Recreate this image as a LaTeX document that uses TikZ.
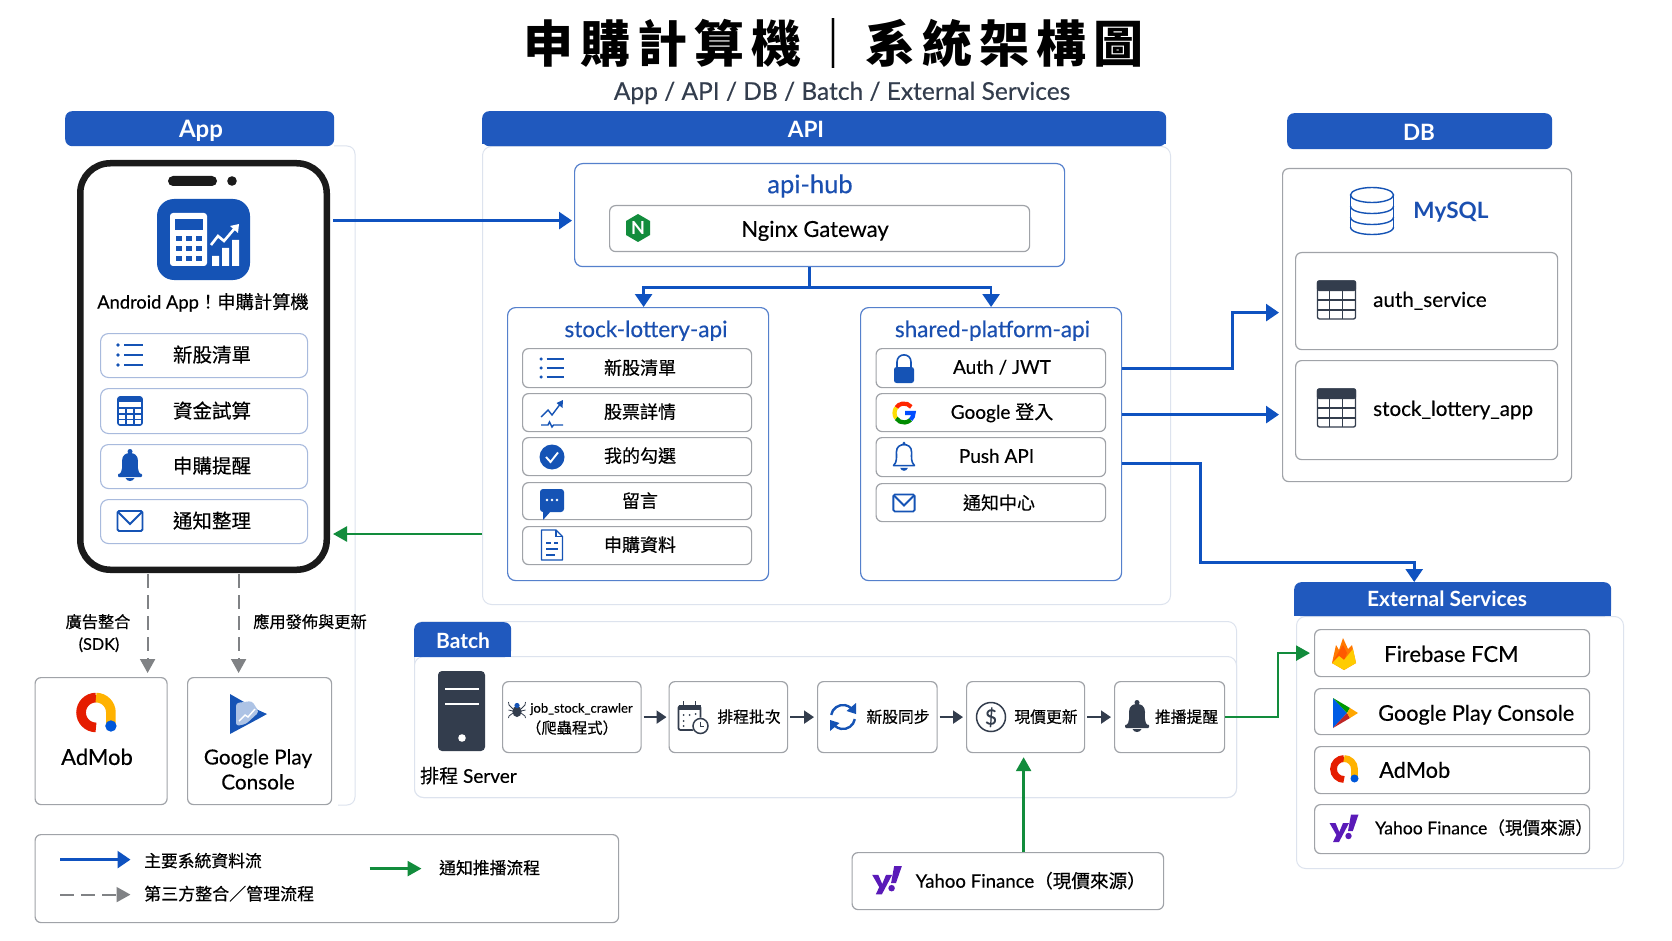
\documentclass[tikz,border=0pt]{standalone}
\usepackage{fontspec}
\usetikzlibrary{arrows.meta,calc}
\setmainfont{Lato}[FakeBold=0.35]
\newfontfamily\hdf{Lato}
\newfontfamily\cjf{Noto Sans CJK TC}[FakeBold=0.35]
\newfontfamily\cjtitle{Noto Sans CJK TC}
\newcommand\cj[1]{{\cjf #1}}
\definecolor{hblue}{HTML}{2059BE}
\definecolor{ablue}{HTML}{0F52C0}
\definecolor{tblue}{HTML}{1A4FB0}
\definecolor{iblue}{HTML}{1553B5}
\definecolor{pblue}{HTML}{5580CC}
\definecolor{rowb}{HTML}{A8BADD}
\definecolor{gborder}{HTML}{A0A3A8}
\definecolor{lpanel}{HTML}{DDE3EE}
\definecolor{agreen}{HTML}{128C3C}
\definecolor{dgray}{HTML}{808285}
\definecolor{dark}{HTML}{333D4D}
\definecolor{ink}{HTML}{1A1A1A}
\definecolor{ypurple}{HTML}{5A1AB8}
\tikzset{
  box/.style={draw=gborder,line width=1.2pt,rounded corners=6pt,fill=white},
  rowbox/.style={draw=rowb,line width=1.1pt,rounded corners=8pt,fill=white},
  subpanel/.style={draw=pblue,line width=1.2pt,rounded corners=8pt,fill=white},
  lightpanel/.style={draw=lpanel,line width=1pt,rounded corners=9pt,fill=white},
  header/.style={fill=hblue,rounded corners=7pt},
  phonebody/.style={draw=ink,line width=6.5pt,rounded corners=30pt,fill=white},
  flow/.style={draw=ablue,line width=2.7pt,-{Triangle[length=13pt,width=17pt]}},
  gflow/.style={draw=agreen,line width=2.5pt,-{Triangle[length=14pt,width=15pt]}},
  dflow/.style={draw=dgray,line width=2pt,dash pattern=on 14pt off 7pt,-{Triangle[length=14pt,width=15pt]}},
  bflow/.style={draw=dark,line width=2pt,-{Triangle[length=10pt,width=13pt]}},
}
\newcommand\bx[6]{\node[#1,anchor=north west,minimum width={(#5-#3)*1pt},minimum height={(#6-#4)*1pt},inner sep=0pt] (#2) at (#3,#4) {};}
\newcommand\tx[6][]{\node[inner sep=0pt,#1,anchor=base] (#2) at (#3,{#4+0.36*#5}) {\fontsize{#5}{#5}\selectfont #6};}
\newcommand\txl[6][]{\node[inner sep=0pt,#1,anchor=base west] (#2) at (#3,{#4+0.36*#5}) {\fontsize{#5}{#5}\selectfont #6};}
% icons: x, y, scale
\newcommand\iList[3]{\begin{scope}[shift={(#1,#2)},scale=#3]
 \foreach \yy in {-10,0,10}{\fill[iblue] (-12,\yy) circle (1.9); \draw[iblue,line width=1.7pt] (-6,\yy)--(13,\yy);}
 \end{scope}}
\newcommand\iCalc[3]{\begin{scope}[shift={(#1,#2)},scale=#3]
 \draw[iblue,line width=1.6pt,rounded corners=2pt] (-12,-14) rectangle (12,14);
 \fill[iblue] (-12,-14) rectangle (12,-9);
 \draw[iblue,line width=1.2pt] (-12,-3)--(12,-3) (-12,3)--(12,3) (-12,8.5)--(12,8.5) (-4,-3)--(-4,14) (4,-3)--(4,14);
 \end{scope}}
\newcommand\bellpath{(-11,9) .. controls (-7,5) and (-8,0) .. (-8,-5) .. controls (-8,-11) and (-4,-13) .. (0,-13) .. controls (4,-13) and (8,-11) .. (8,-5) .. controls (8,0) and (7,5) .. (11,9) -- cycle}
\newcommand\iBell[4]{\begin{scope}[shift={(#1,#2)},scale=#3]
 \fill[#4] \bellpath; \fill[#4] (0,-14.5) circle (2.5);
 \fill[#4,rounded corners=1pt] (-12,7.5) rectangle (12,11);
 \fill[#4] (-4.5,12) -- (4.5,12) .. controls (3,16) and (-3,16) .. (-4.5,12);
 \end{scope}}
\newcommand\iBellO[3]{\begin{scope}[shift={(#1,#2)},scale=#3]
 \draw[iblue,line width=1.6pt,line join=round] \bellpath; \fill[iblue] (0,-14.5) circle (1.8);
 \fill[iblue] (-4,11.5) -- (4,11.5) .. controls (3,15.5) and (-3,15.5) .. (-4,11.5);
 \end{scope}}
\newcommand\iMail[3]{\begin{scope}[shift={(#1,#2)},scale=#3]
 \draw[iblue,line width=1.9pt,rounded corners=1.5pt] (-12.5,-10) rectangle (12.5,10);
 \draw[iblue,line width=1.9pt] (-12,-9)--(0,3)--(12,-9);
 \end{scope}}
\newcommand\iTrend[3]{\begin{scope}[shift={(#1,#2)},scale=#3]
 \draw[iblue,line width=1.4pt] (-11,3)--(-4,-4)--(0,1)--(9,-11);
 \fill[iblue] (11,-14)--(10.5,-6)--(4.5,-11)--cycle;
 \draw[iblue,line width=1.4pt] (-11,11)--(-4,11)--(-2.5,8)--(0,13)--(1.5,11)--(11,11);
 \end{scope}}
\newcommand\iCheck[3]{\begin{scope}[shift={(#1,#2)},scale=#3]
 \fill[iblue] (0,0) circle (12.5);
 \draw[white,line width=1.9pt] (-6,0)--(-1.5,5)--(6,-4.5);
 \end{scope}}
\newcommand\iChat[3]{\begin{scope}[shift={(#1,#2)},scale=#3]
 \fill[iblue,rounded corners=3pt] (-12,-12) rectangle (12,11);
 \fill[iblue] (-9,9)--(-9,19)--(-1,10)--cycle;
 \foreach \xx in {-5,0,5}{\fill[white] (\xx,-1) circle (1.3);}
 \end{scope}}
\newcommand\iDoc[3]{\begin{scope}[shift={(#1,#2)},scale=#3]
 \draw[iblue,line width=1.4pt,line join=round] (-10.5,-15)--(4,-15)--(10.5,-8.5)--(10.5,15)--(-10.5,15)--cycle;
 \draw[iblue,line width=1.2pt] (4,-15)--(4,-8.5)--(10.5,-8.5);
 \draw[iblue,line width=1.2pt] (-6,-2)--(-1,-2) (2,-2)--(6,-2) (-6,4)--(6,4) (-6,10)--(3,10);
 \end{scope}}
\newcommand\iLock[3]{\begin{scope}[shift={(#1,#2)},scale=#3]
 \fill[iblue,rounded corners=2.5pt] (-10,-2) rectangle (10,14);
 \draw[iblue,line width=1.6pt] (-7,0)--(-7,-7) .. controls (-7,-16.5) and (7,-16.5) .. (7,-7) -- (7,0);
 \end{scope}}
\newcommand\iGoogle[3]{\begin{scope}[shift={(#1,#2)},scale=#3]
 \begin{scope}[line width=4.2pt]
 \draw[red!70!orange] (-40:9.5) arc (-40:-145:9.5);
 \draw[yellow!80!orange] (-145:9.5) arc (-145:-215:9.5);
 \draw[green!55!black] (145:9.5) arc (145:45:9.5);
 \draw[blue!70!cyan] (45:9.5) arc (45:0:9.5) -- (1,0);
 \end{scope}
 \end{scope}}
\newcommand\iTable[3]{\begin{scope}[shift={(#1,#2)},scale=#3]
 \draw[dark,line width=1.3pt,rounded corners=2pt] (-19,-19) rectangle (19,19);
 \fill[dark,rounded corners=2pt] (-19.6,-19.6) rectangle (19.6,-9);
 \draw[dark,line width=1.1pt] (-7,-9)--(-7,19) (6,-9)--(6,19) (-19,0)--(19,0) (-19,10)--(19,10);
 \end{scope}}
\newcommand\iAdMob[3]{\begin{scope}[shift={(#1,#2)},scale=#3]
 \draw[red!75!orange!90!black,line width={6.8pt*#3}] (0,-10.5) arc (-90:-270:10.5);
 \draw[orange!60!yellow,line width={6.8pt*#3}] (0,-10.5) arc (-90:0:10.5) -- (10.5,8);
 \fill[blue!60!cyan!85!black] (10.5,9.5) circle (4);
 \end{scope}}
\newcommand\iYahoo[3]{\begin{scope}[shift={(#1,#2)},scale=#3]
 \fill[ypurple] (-14.5,-5)--(-8.5,-5)--(-4.7,4)--(-1,-5)--(5,-5)--(-5,14)--(-11,14)--(-7.6,7)--cycle;
 \fill[ypurple] (7,-13.5)--(14.5,-13.5)--(8.8,3)--(4,3)--cycle;
 \fill[ypurple] (4.5,8) circle (3.2);
 \end{scope}}
\begin{document}
\begin{tikzpicture}[x=1pt,y=-1pt]
\useasboundingbox (0,0) rectangle (1672,941);
\fill[white] (0,0) rectangle (1672,941);
% Title
\tx{title}{833}{45}{50}{{\cjtitle\bfseries\addfontfeature{LetterSpace=14}申購計算機｜系統架構圖}}
\tx[text=dark]{subtitle}{842}{91}{24.5}{App / API / DB / Batch / External Services}
% App panel
\draw[lpanel,line width=1pt,rounded corners=8pt] (334,146)--(355,146)--(355,805)--(338,805);
% Panels
\bx{lightpanel}{apip}{482}{146}{1170}{604}
\bx{lightpanel}{batchouter}{414}{621}{1236}{797}
\bx{lightpanel}{batchp}{414}{656}{1236}{797}
\bx{lightpanel}{extp}{1296}{616}{1623}{868}
\bx{box}{dbp}{1282}{168}{1571}{481}
% Headers
\bx{header}{apph}{65}{111}{334}{146}
\fill[hblue] (482,130) rectangle (1166,144.5);
\bx{header}{apih}{482}{111}{1166}{146}
\bx{header}{dbh}{1287}{113}{1552}{149}
\fill[hblue] (1294,600) rectangle (1611,616);
\bx{header}{exth}{1294}{582}{1611}{616}
\fill[hblue] (414,640) rectangle (511,657);
\bx{header}{batchh}{414}{622}{511}{657}
\tx[text=white,font=\hdf\bfseries]{appt}{201}{129}{24}{App}
\tx[text=white,font=\hdf\bfseries]{apit}{806}{129}{22.5}{API}
\tx[text=white,font=\hdf\bfseries]{dbt}{1419}{132}{22.5}{DB}
\tx[text=white,font=\hdf\bfseries]{extt}{1447}{599}{21}{External Services}
\tx[text=white,font=\hdf\bfseries]{batt}{463}{641}{21}{Batch}
% Phone
\bx{phonebody}{phone}{77}{160}{323.5}{566.5}
\fill[ink,rounded corners=5pt] (168,176) rectangle (217,186);
\fill[ink] (232,181) circle (4.8);
\fill[iblue,rounded corners=17pt] (157,199) rectangle (250,280);
\fill[white,rounded corners=3pt] (170,213) rectangle (207,266);
\fill[iblue] (175,219) rectangle (203,230);
\foreach \xx in {176,186,196}\foreach \yy in {236,246,256}{\fill[iblue] (\xx,\yy) rectangle ++(6,5.5);}
\fill[white] (212,256) rectangle (219,266) (222,248) rectangle (229,266) (232,240) rectangle (239,266);
\draw[white,line width=2.6pt] (211,245)--(218,236)--(224,241)--(235,228);
\fill[white] (239,224)--(238,233)--(230,226)--cycle;
\tx{apptitle}{203}{302}{18.3}{Android App\cj{！申購計算機}}
\bx{rowbox}{ar1}{100}{333}{307}{377}
\bx{rowbox}{ar2}{100}{388}{307}{433}
\bx{rowbox}{ar3}{100}{444}{307}{488}
\bx{rowbox}{ar4}{100}{499}{307}{543}
\iList{130}{355}{1}\iCalc{130}{411}{1}\iBell{130}{466}{1}{iblue}\iMail{130}{521}{1}
\tx{art1}{212}{355}{19.5}{\cj{新股清單}}
\tx{art2}{212}{411}{19.5}{\cj{資金試算}}
\tx{art3}{212}{466}{19.5}{\cj{申購提醒}}
\tx{art4}{212}{521}{19.5}{\cj{通知整理}}
% api-hub
\bx{subpanel}{hub}{574}{163}{1064}{266}
\tx[text=tblue]{hubt}{810}{184}{25.5}{api-hub}
\bx{box}{ngx}{609}{205}{1029}{251}
\fill[agreen] (638,214)--(650,221)--(650,235)--(638,242)--(626,235)--(626,221)--cycle;
\tx[text=white,font=\hdf\bfseries]{ngxn}{638}{228}{18}{N}
\tx{ngxt}{815}{229}{22}{Nginx Gateway}
% stock lottery
\bx{subpanel}{stock}{507}{307}{768}{580}
\tx[text=tblue]{stockt}{646}{329}{22.5}{stock-lottery-api}
\bx{box}{s1}{522}{348}{751}{387}
\bx{box}{s2}{522}{393}{751}{431}
\bx{box}{s3}{522}{437}{751}{475}
\bx{box}{s4}{522}{482}{751}{519}
\bx{box}{s5}{522}{526}{751}{564}
\iList{552}{368}{.9}\iTrend{552}{414}{1}\iCheck{552}{457}{1}\iChat{552}{501}{1}\iDoc{552}{545}{1}
\tx{st1}{640}{368}{18}{\cj{新股清單}}
\tx{st2}{640}{412}{18}{\cj{股票詳情}}
\tx{st3}{640}{456}{18}{\cj{我的勾選}}
\tx{st4}{640}{501}{18}{\cj{留言}}
\tx{st5}{640}{545}{18}{\cj{申購資料}}
% shared
\bx{subpanel}{shared}{860}{307}{1121}{580}
\tx[text=tblue]{sharedt}{992.5}{329}{22.5}{shared-platform-api}
\bx{box}{p1}{875.5}{348}{1105}{387}
\bx{box}{p2}{875.5}{393}{1105}{431}
\bx{box}{p3}{875.5}{437}{1105}{476}
\bx{box}{p4}{875.5}{483}{1105}{521}
\iLock{904}{369}{1}\iGoogle{904}{413}{1}\iBellO{904}{457}{.95}\iMail{904}{503}{.85}
\tx{pt1}{1002}{367}{19}{Auth / JWT}
\tx{pt2}{1002}{412}{19}{Google \cj{登入}}
\tx{pt3}{996.5}{456}{19}{Push API}
\tx{pt4}{999}{503}{18}{\cj{通知中心}}
% DB
\begin{scope}[shift={(1372,211)}]
 \draw[iblue,line width=1.4pt] (0,-16) ellipse (21.5 and 7.5);
 \draw[iblue,line width=1.4pt] (-21.5,-16)--(-21.5,16) (21.5,-16)--(21.5,16);
 \foreach \yy in {-5,6,16}{\draw[iblue,line width=1.4pt] (-21.5,\yy) .. controls (-21.5,\yy+10) and (21.5,\yy+10) .. (21.5,\yy);}
\end{scope}
\tx[text=tblue,font=\hdf\bfseries]{mysqlt}{1451}{210}{22.5}{MySQL}
\bx{box}{t1}{1295}{252}{1557}{349}
\bx{box}{t2}{1295}{360}{1557}{459}
\iTable{1336.5}{300}{1}\iTable{1336.5}{408}{1}
\txl{t1t}{1373}{299.5}{20.6}{auth\_service}
\txl{t2t}{1373}{408.5}{20.6}{stock\_lottery\_app}
% External
\bx{box}{fb}{1314}{629}{1589}{676}
\bx{box}{gpc}{1314}{688}{1589}{734}
\bx{box}{adx}{1314}{746}{1589}{793}
\bx{box}{yfx}{1314}{804}{1589}{853}
\begin{scope}[shift={(1344,654)}]
 \fill[orange!95!red] (-12,9)--(-8,-9)--(-5,-4)--(-1,-16)--(4,-5)--(8,-9)--(12,9)--(0,16)--cycle;
 \fill[orange!70!red] (-12,9)--(-1,-9)--(3,-1)--(-2,12)--cycle;
 \fill[orange!40!yellow] (-12,9)--(-5,2)--(0,6)--(9,-5)--(12,9)--(0,16)--cycle;
\end{scope}
\begin{scope}[shift={(1344,713)}]
 \fill[blue!60!cyan!90!black] (-11,-15)--(3,0)--(-11,15)--cycle;
 \fill[green!60!black] (-11,-15)--(6,-5)--(3,0)--cycle;
 \fill[red!70!black!85] (-11,15)--(6,5)--(3,0)--cycle;
 \fill[orange!70!yellow] (6,-5)--(14,0)--(6,5)--(3,0)--cycle;
\end{scope}
\iAdMob{1344}{769}{1}\iYahoo{1344}{828}{1}
\txl{fbt}{1384}{654}{22}{Firebase FCM}
\txl{gpct}{1378}{713}{21.7}{Google Play Console}
\txl{adxt}{1379}{770}{21.8}{AdMob}
\txl{yfxt}{1375}{828}{17.6}{Yahoo Finance\cj{（現價來源）}}
% Batch
\fill[dark,rounded corners=4pt] (438,671) rectangle (485,751);
\draw[white,line width=2pt] (445,689)--(478.5,689) (445,704)--(478.5,704);
\fill[white] (462,738) circle (3.8);
\txl{servert}{420}{776}{19}{\cj{排程} Server}
\bx{box}{job}{502}{681}{640.5}{752}
\bx{box}{b1}{668.5}{681}{787}{752}
\bx{box}{b2}{817}{681}{936.5}{752}
\bx{box}{b3}{966}{681}{1084}{752}
\bx{box}{b4}{1114}{681}{1224}{752}
\begin{scope}[shift={(517,709)}]
 \fill[dark] (0,2.5) ellipse (4.6 and 5.5); \fill[iblue] (0,-3.5) circle (2.6);
 \draw[dark,line width=.8pt] (-4,0)--(-8,-4)--(-8.5,-7) (4,0)--(8,-4)--(8.5,-7) (-4,2)--(-8.5,1) (4,2)--(8.5,1) (-4,4)--(-8,7)--(-8.5,9) (4,4)--(8,7)--(8.5,9);
\end{scope}
\tx{jobt1}{581.5}{708}{13}{job\_stock\_crawler}
\tx{jobt2}{572}{728}{15.3}{\cj{（爬蟲程式）}}
\begin{scope}[shift={(692.5,717)}]
 \draw[dark,line width=1.8pt,rounded corners=2pt] (-14,-11) rectangle (8,13);
 \fill[dark] (-14,-12) rectangle (8,-7);
 \draw[dark,line width=1.8pt] (-9,-16)--(-9,-11) (3,-16)--(3,-11);
 \foreach \p in {(-9,-2),(-3,-2),(3,-3),(-9,4),(-9,9)}{\fill[dark] \p circle (1);}
 \fill[white] (8,9) circle (8.5); \draw[dark,line width=1.5pt] (8,9) circle (7.5);
 \draw[dark,line width=1.2pt] (8,4.5)--(8,9.5)--(11.5,9.5);
\end{scope}
\tx{b1t}{749}{717}{15.8}{\cj{排程批次}}
\begin{scope}[shift={(843,717)}]
 \draw[iblue,line width=2.4pt] (-170:12) arc (-170:-48:12);
 \fill[iblue] (13,-14)--(13,-3)--(3.5,-6)--cycle;
 \draw[iblue,line width=2.4pt] (10:12) arc (10:132:12);
 \fill[iblue] (-13,14)--(-13,3)--(-3.5,6)--cycle;
\end{scope}
\tx{b2t}{898}{717}{15.8}{\cj{新股同步}}
\draw[dark,line width=1.5pt] (991,717) circle (14.5);
\tx[text=dark]{dollar}{991}{717}{21}{\$}
\tx{b3t}{1046}{717}{15.8}{\cj{現價更新}}
\iBell{1137}{717}{1}{dark}
\tx{b4t}{1186.5}{717}{15.8}{\cj{推播提醒}}
% Yahoo box
\bx{box}{yf}{851.5}{852}{1163}{909}
\iYahoo{887}{880}{1.02}
\txl{yft}{915.5}{881}{18.6}{Yahoo Finance\cj{（現價來源）}}
% AdMob, GP
\bx{box}{adm}{34.5}{677}{166.5}{804}
\bx{box}{gpb}{187}{677}{331}{804}
\iAdMob{96}{712.5}{1.42}
\begin{scope}[shift={(248,714)}]
 \fill[iblue] (-18,-20)--(10,-4)--(19,0)--(10,5)--(-18,20)--cycle;
 \fill[iblue!35!white,rounded corners=3pt] (-12,-11)--(4,-13)--(11,-2)--(-2,10)--(-12,12)--cycle;
 \draw[white,line width=1.4pt] (-9,7)--(-3,1)--(0,3)--(7,-5);
\end{scope}
\tx{admt}{97}{757}{22}{AdMob}
\tx{gpt1}{258}{757}{20.7}{Google Play}
\tx{gpt2}{258}{782}{20.7}{Console}
\tx{lab1}{98}{622}{16.2}{\cj{廣告整合}}
\tx{lab1b}{99}{644}{16.2}{(SDK)}
\tx{lab2}{310}{622}{16.2}{\cj{應用發佈與更新}}
% Legend
\bx{box}{legend}{34.5}{834}{618}{922}
\coordinate (la1) at ([xshift=25.5pt,yshift=19pt]legend.west);
\coordinate (lb1) at ([xshift=96pt,yshift=19pt]legend.west);
\coordinate (la2) at ([xshift=25.5pt,yshift=-16pt]legend.west);
\coordinate (lb2) at ([xshift=96pt,yshift=-16pt]legend.west);
\coordinate (la3) at ([xshift=335pt,yshift=10pt]legend.west);
\coordinate (lb3) at ([xshift=387pt,yshift=10pt]legend.west);
\draw[flow] (la1)--(lb1);
\draw[dflow] (la2)--(lb2);
\draw[gflow] (la3)--(lb3);
\txl{lt1}{144}{861}{16.8}{\cj{主要系統資料流}}
\txl{lt2}{144}{894}{17}{\cj{第三方整合／管理流程}}
\txl{lt3}{439}{868}{16.8}{\cj{通知推播流程}}
% Connectors
\coordinate (hubin) at ([yshift=-5.5pt]hub.west);
\draw[flow,shorten <=3pt,shorten >=2pt] (phone.east |- hubin) -- (hubin);
\coordinate (ph534) at ([yshift=-167.5pt]phone.east);
\draw[gflow,shorten >=3pt] (apip.west |- ph534) -- (ph534);
\coordinate (hubout) at ([xshift=-10pt]hub.south);
\draw[flow] (hubout) -- ++(0,20) -| ([xshift=5.5pt]stock.north);
\draw[flow] (hubout) -- ++(0,20) -| (shared.north);
\coordinate (t1in) at ([xshift=-16pt,yshift=-11.5pt]t1.west);
\coordinate (t2in) at ([xshift=-16pt,yshift=-4.5pt]t2.west);
\draw[flow] ([yshift=75.5pt]shared.east) -- ++(110,0) |- (t1in);
\draw[flow] (shared.east |- t2in) -- (t2in);
\draw[flow] ([yshift=-19.5pt]shared.east) -- ++(78,0) -- ++(0,99) -| ([xshift=-38.5pt]exth.north);
\draw[bflow,shorten <=2pt,shorten >=2pt] (job.east)--(b1.west);
\draw[bflow,shorten <=2pt,shorten >=3pt] (b1.east)--(b2.west);
\draw[bflow,shorten <=2pt,shorten >=3pt] (b2.east)--(b3.west);
\draw[bflow,shorten <=2pt,shorten >=3pt] (b3.east)--(b4.west);
\coordinate (yin) at ([xshift=-2pt]b3.south);
\draw[gflow,shorten >=4pt] (yin |- yf.north) -- (yin);
\draw[gflow,shorten >=4pt] (b4.east) -- ++(53,0) |- (fb.west);
\coordinate (d1) at ([xshift=46.5pt]adm.north);
\coordinate (d2) at ([xshift=-21pt]gpb.north);
\draw[dflow,shorten <=1pt,shorten >=4pt] (d1 |- phone.south) -- (d1);
\draw[dflow,shorten <=1pt,shorten >=4pt] (d2 |- phone.south) -- (d2);
\end{tikzpicture}
\end{document}
